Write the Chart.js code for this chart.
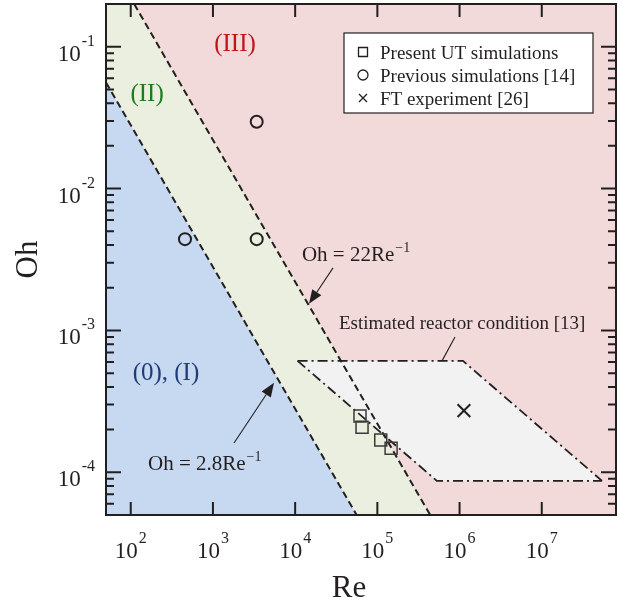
<!DOCTYPE html>
<html><head><meta charset="utf-8">
<script src="https://cdn.jsdelivr.net/npm/chart.js@4.4.1/dist/chart.umd.min.js"></script>
<style>html,body{margin:0;padding:0;background:#fff}#wrap{width:620px;height:603px;position:relative}</style>
</head><body><div id="wrap"><canvas id="c" width="620" height="603"></canvas></div>
<script>
// ---- data ----
const reRange = [50, 8e7];
const ohRange = [5e-5, 0.2];
const xTicks = [1e2, 1e3, 1e4, 1e5, 1e6, 1e7];
const xTickExp = ['2', '3', '4', '5', '6', '7'];
const yTicks = [1e-4, 1e-3, 1e-2, 1e-1];
const yTickExp = ['-4', '-3', '-2', '-1'];
// Oh = 2.8 Re^-1
const line1Re = [50, 56000];
const line1Oh = [0.056, 5e-5];
// Oh = 22 Re^-1
const line2Re = [110, 4.4e5];
const line2Oh = [0.2, 5e-5];
// Present UT simulations
const presentRe = [61500, 65100, 110000, 147000];
const presentOh = [2.49e-4, 2.08e-4, 1.69e-4, 1.48e-4];
// Previous simulations [14]
const prevRe = [457, 3406, 3406];
const prevOh = [4.4e-3, 4.4e-3, 0.0296];
// FT experiment [26]
const ftRe = [1.13e6];
const ftOh = [2.72e-4];
// Estimated reactor condition [13]
const reactorUpperRe = [1.07e4, 1.10e6, 5.4e7];
const reactorUpperOh = [6.1e-4, 6.1e-4, 8.7e-5];
const reactorLowerRe = [1.07e4, 5.3e5, 5.4e7];
const reactorLowerOh = [6.1e-4, 8.7e-5, 8.7e-5];

const pts = (xs, ys) => xs.map((v, i) => ({x: v, y: ys[i]}));

const INK = '#231f20';
const SERIF = '"Liberation Serif","Times New Roman",serif';

const datasets = [
  {label: 'Present UT simulations', data: pts(presentRe, presentOh), showLine: false,
   pointStyle: 'rect', pointRadius: 8.5, pointBorderWidth: 1.5, pointBorderColor: '#3a3a3a',
   pointBackgroundColor: 'rgba(0,0,0,0)', order: 0},
  {label: 'Previous simulations [14]', data: pts(prevRe, prevOh), showLine: false,
   pointStyle: 'circle', pointRadius: 6, pointBorderWidth: 2, pointBorderColor: INK,
   pointBackgroundColor: 'rgba(0,0,0,0)', order: 1},
  {label: 'FT experiment [26]', data: pts(ftRe, ftOh), showLine: false,
   pointStyle: 'crossRot', pointRadius: 9, pointBorderWidth: 2, pointBorderColor: INK, order: 2},
  {label: 'line1', data: pts(line1Re, line1Oh), borderColor: INK, borderWidth: 2,
   borderDash: [7, 4], pointRadius: 0, fill: false, order: 3},
  {label: 'line2', data: pts(line2Re, line2Oh), borderColor: INK, borderWidth: 2,
   borderDash: [7, 4], pointRadius: 0, fill: false, order: 3},
  {label: 'reactorUpper', data: pts(reactorUpperRe, reactorUpperOh), borderColor: INK, borderWidth: 1.8,
   borderDash: [10, 4, 2, 4], pointRadius: 0, fill: {target: 6}, backgroundColor: '#f2f2f2', order: 6},
  {label: 'reactorLower', data: pts(reactorLowerRe, reactorLowerOh), borderColor: INK, borderWidth: 1.8,
   borderDash: [10, 4, 2, 4], pointRadius: 0, fill: false, order: 5},
  {label: 'blue', data: pts([reRange[0], line1Re[1]], [line1Oh[0], ohRange[0]]), borderWidth: 0,
   borderColor: 'rgba(0,0,0,0)', pointRadius: 0, fill: 'start', backgroundColor: '#c6d9f1', order: 7},
  {label: 'green', data: pts([reRange[0], line2Re[0], line2Re[1]], [ohRange[1], line2Oh[0], line2Oh[1]]), borderWidth: 0,
   borderColor: 'rgba(0,0,0,0)', pointRadius: 0, fill: 'start', backgroundColor: '#ebefdf', order: 8},
  {label: 'pink', data: pts([reRange[0], reRange[1]], [ohRange[1], ohRange[1]]), borderWidth: 0,
   borderColor: 'rgba(0,0,0,0)', pointRadius: 0, fill: 'start', backgroundColor: '#f2d9da', order: 9}
];

// annotation anchors (data coordinates)
const regionLabels = [
  {text: '(III)', re: 1855, oh: 0.0933, color: '#c0141c'},
  {text: '(II)', re: 158, oh: 0.0414, color: '#1e7b1e'},
  {text: '(0), (I)', re: 268, oh: 4.48e-4, color: '#1f3c78'}
];
const eqLabels = [
  {base: 'Oh = 22Re', sup: '\u22121', re: 12100, oh: 3.11e-3},
  {base: 'Oh = 2.8Re', sup: '\u22121', re: 162, oh: 1.04e-4}
];
const arrows = [
  {from: [28900, 2.76e-3], to: [14740, 1.54e-3]},
  {from: [1805, 1.61e-4], to: [5530, 4.27e-4]}
];
const reactorLabel = {text: 'Estimated reactor condition [13]', re: 34150, oh: 1.025e-3,
  leader: [[880500, 9.0e-4], [611800, 6.1e-4]]};

const decor = {
  id: 'decor',
  afterDatasetsDraw(chart) {
    const {ctx, chartArea: a, scales: {x, y}} = chart;
    const px = v => x.getPixelForValue(v), py = v => y.getPixelForValue(v);
    ctx.save();
    ctx.fillStyle = INK;
    ctx.textBaseline = 'alphabetic';
    // region labels
    ctx.font = '25px ' + SERIF;
    ctx.textAlign = 'center';
    regionLabels.forEach(l => { ctx.fillStyle = l.color; ctx.fillText(l.text, px(l.re), py(l.oh)); });
    // equations
    ctx.fillStyle = INK;
    ctx.textAlign = 'left';
    eqLabels.forEach(l => {
      ctx.font = '21px ' + SERIF;
      const bx = px(l.re), by = py(l.oh);
      ctx.fillText(l.base, bx, by);
      const w = ctx.measureText(l.base).width;
      ctx.font = '14px ' + SERIF;
      ctx.fillText(l.sup, bx + w + 1, by - 9);
    });
    // arrows
    ctx.strokeStyle = INK; ctx.lineWidth = 1.1;
    arrows.forEach(ar => {
      const x0 = px(ar.from[0]), y0 = py(ar.from[1]), x1 = px(ar.to[0]), y1 = py(ar.to[1]);
      const ang = Math.atan2(y1 - y0, x1 - x0), L = 14, H = 5.5;
      const bx = x1 - L * Math.cos(ang), by = y1 - L * Math.sin(ang);
      ctx.beginPath(); ctx.moveTo(x0, y0); ctx.lineTo(bx, by); ctx.stroke();
      ctx.beginPath(); ctx.moveTo(x1, y1);
      ctx.lineTo(bx + H * Math.sin(ang), by - H * Math.cos(ang));
      ctx.lineTo(bx - H * Math.sin(ang), by + H * Math.cos(ang));
      ctx.closePath(); ctx.fill();
    });
    // reactor label
    ctx.font = '19px ' + SERIF;
    ctx.fillText(reactorLabel.text, px(reactorLabel.re), py(reactorLabel.oh));
    ctx.beginPath();
    ctx.moveTo(px(reactorLabel.leader[0][0]), py(reactorLabel.leader[0][1]));
    ctx.lineTo(px(reactorLabel.leader[1][0]), py(reactorLabel.leader[1][1]));
    ctx.stroke();
    // legend
    const lx = a.right - 272, lt = a.top + 29, lw = 249, lh = 80;
    ctx.fillStyle = '#fff'; ctx.fillRect(lx, lt, lw, lh);
    ctx.strokeStyle = INK; ctx.lineWidth = 1.2; ctx.strokeRect(lx, lt, lw, lh);
    const names = [datasets[0].label, datasets[1].label, datasets[2].label];
    ctx.fillStyle = INK; ctx.font = '19px ' + SERIF; ctx.textAlign = 'left';
    names.forEach((n, i) => {
      const cy = lt + 19 + i * 23, mx = lx + 19;
      ctx.lineWidth = 1.3; ctx.strokeStyle = INK;
      ctx.beginPath();
      if (i === 0) ctx.rect(mx - 4.5, cy - 4.5, 9, 9);
      else if (i === 1) ctx.arc(mx, cy, 5, 0, Math.PI * 2);
      else { ctx.moveTo(mx - 4, cy - 4); ctx.lineTo(mx + 4, cy + 4); ctx.moveTo(mx + 4, cy - 4); ctx.lineTo(mx - 4, cy + 4); }
      ctx.stroke();
      ctx.fillText(n, lx + 36, cy + 6.5);
    });
    ctx.restore();
  },
  afterDraw(chart) {
    const {ctx, chartArea: a, scales: {x, y}} = chart;
    const px = v => x.getPixelForValue(v), py = v => y.getPixelForValue(v);
    ctx.save();
    ctx.strokeStyle = INK; ctx.fillStyle = INK;
    // ticks
    ctx.lineWidth = 2;
    ctx.beginPath();
    xTicks.forEach(t => {
      const X = px(t);
      ctx.moveTo(X, a.bottom); ctx.lineTo(X, a.bottom - 13);
      ctx.moveTo(X, a.top); ctx.lineTo(X, a.top + 13);
    });
    for (let e = -5; e <= 0; e++) {
      for (let k = 1; k <= 9; k++) {
        const v = k * Math.pow(10, e);
        if (v < ohRange[0] * 0.999 || v > ohRange[1] * 1.001) continue;
        const Y = py(v), len = k === 1 ? 15 : 8;
        ctx.moveTo(a.left, Y); ctx.lineTo(a.left + len, Y);
        ctx.moveTo(a.right, Y); ctx.lineTo(a.right - len, Y);
      }
    }
    ctx.stroke();
    // frame
    ctx.lineWidth = 2;
    ctx.strokeRect(a.left, a.top, a.right - a.left, a.bottom - a.top);
    // tick labels
    ctx.textBaseline = 'alphabetic';
    xTicks.forEach((t, i) => {
      ctx.font = '23px ' + SERIF;
      const wb = ctx.measureText('10').width;
      ctx.font = '16px ' + SERIF;
      const ws = ctx.measureText(xTickExp[i]).width;
      const X0 = px(t) - (wb + ws + 1) / 2;
      ctx.textAlign = 'left';
      ctx.font = '23px ' + SERIF; ctx.fillText('10', X0, a.bottom + 43);
      ctx.font = '16px ' + SERIF; ctx.fillText(xTickExp[i], X0 + wb + 1, a.bottom + 28);
    });
    yTicks.forEach((t, i) => {
      const Y = py(t), R = a.left - 11;
      ctx.textAlign = 'right';
      ctx.font = '16px ' + SERIF;
      const ws = ctx.measureText(yTickExp[i]).width;
      ctx.fillText(yTickExp[i], R, Y - 1);
      ctx.font = '23px ' + SERIF;
      ctx.fillText('10', R - ws - 1, Y + 14);
    });
    // axis titles
    ctx.font = '31px ' + SERIF;
    ctx.textAlign = 'center';
    ctx.fillText('Re', (a.left + a.right) / 2 - 12, a.bottom + 82);
    ctx.translate(a.left - 69, (a.top + a.bottom) / 2);
    ctx.rotate(-Math.PI / 2);
    ctx.fillText('Oh', 0, 0);
    ctx.restore();
  }
};

new Chart(document.getElementById('c'), {
  type: 'line',
  data: {datasets},
  options: {
    responsive: false,
    animation: false,
    events: [],
    layout: {autoPadding: false, padding: {left: 106, top: 4, right: 4, bottom: 88}},
    plugins: {legend: {display: false}, tooltip: {enabled: false}, filler: {propagate: false}},
    scales: {
      x: {type: 'logarithmic', min: reRange[0], max: reRange[1], display: false},
      y: {type: 'logarithmic', min: ohRange[0], max: ohRange[1], display: false}
    }
  },
  plugins: [decor]
});
</script></body></html>
